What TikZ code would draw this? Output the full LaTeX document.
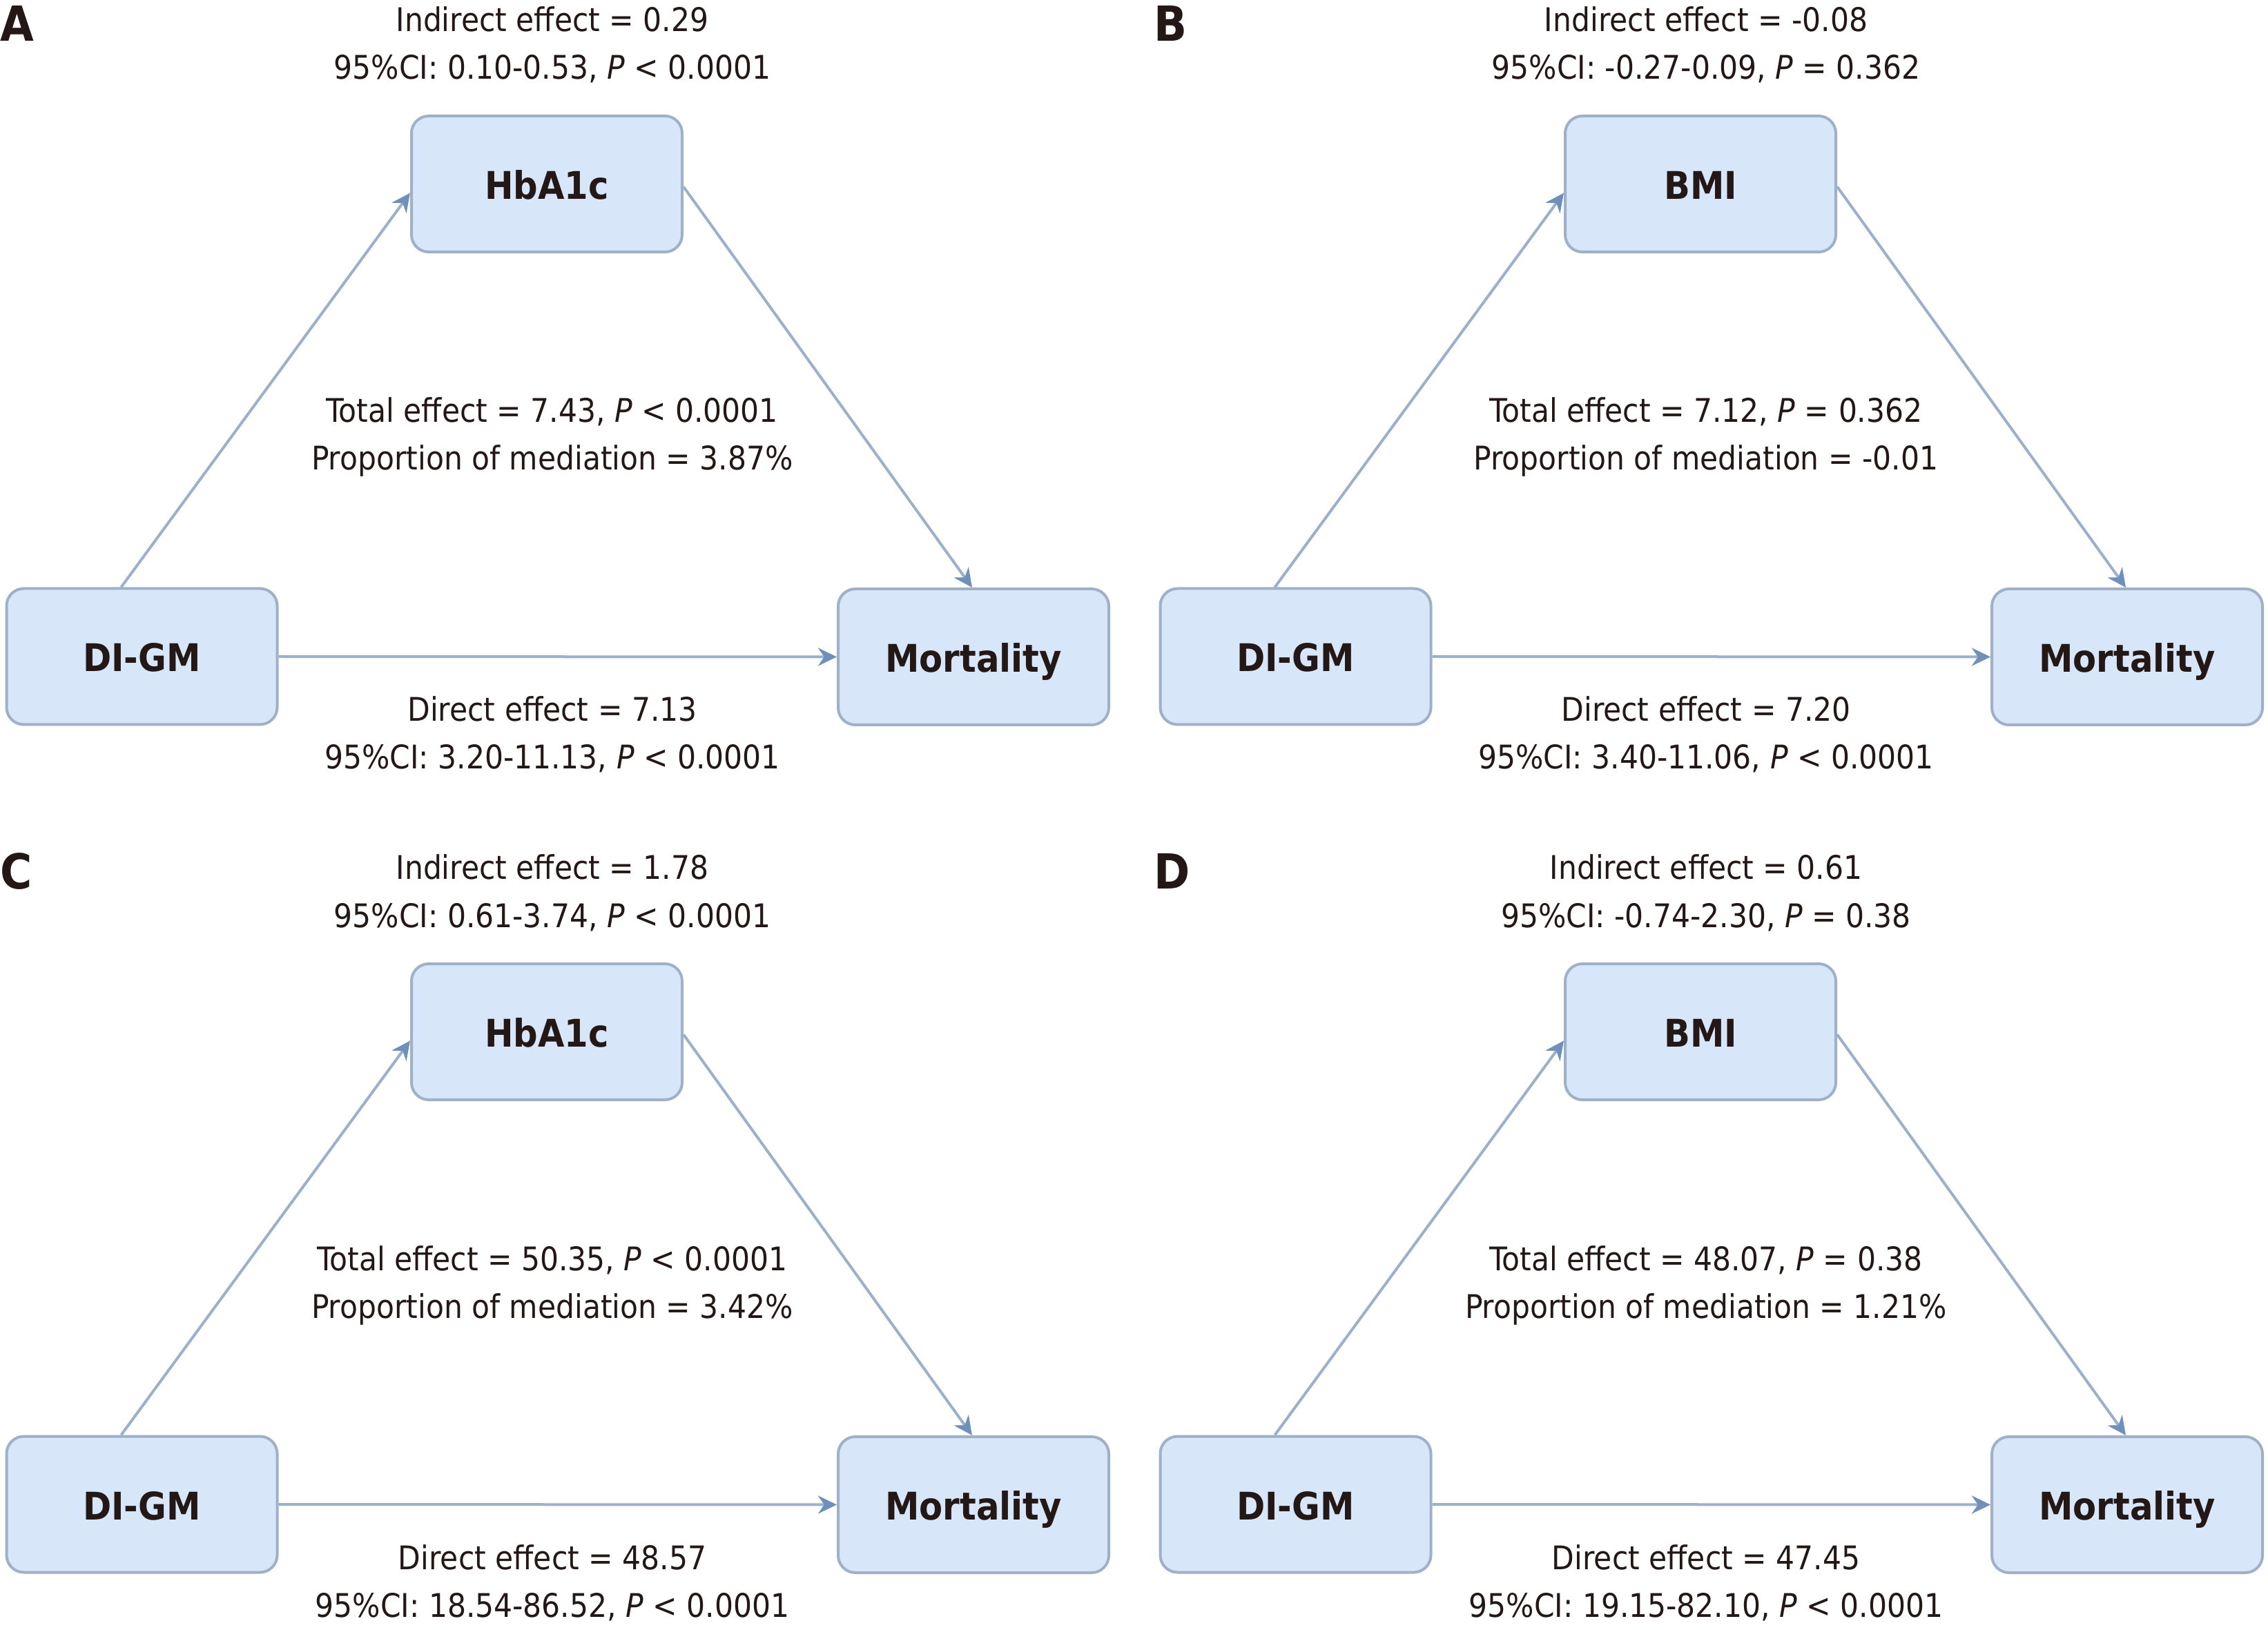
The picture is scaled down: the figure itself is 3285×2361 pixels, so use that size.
\documentclass[tikz,border=0pt]{standalone}
\usepackage{fontspec}
\setmainfont{DejaVu Sans Condensed}
\usetikzlibrary{arrows.meta}
\definecolor{boxfill}{HTML}{D7E6F9}
\definecolor{boxline}{HTML}{9FB1C9}
\definecolor{arrline}{HTML}{9CB0CA}
\definecolor{arrhead}{HTML}{7090BC}
\definecolor{ink}{HTML}{231815}
\tikzset{
  box/.style={draw=boxline, fill=boxfill, line width=1pt, rounded corners=6.25pt,
    minimum width=98pt, minimum height=49.25pt, inner sep=0pt,
    font=\fontsize{13.8}{16}\selectfont\bfseries, text=ink, text height=11pt, text depth=0pt},
  lbl/.style={anchor=base, inner sep=0pt, font=\fontsize{11.8}{14}\selectfont, text=ink},
  plabel/.style={anchor=base west, inner sep=0pt, font=\fontsize{17.5}{20}\selectfont\bfseries, text=ink},
  conn/.style={draw=arrline, line width=1pt,
    -{Stealth[length=6.75pt, width=6.5pt, inset=2.2pt, color=arrhead]}},
}
\newcommand\panelfig[9]{%
  \node[plabel] (#1lab) at (0,60) {#2};
  \node[box] (#1md) at (792,266.5) {#3};
  \node[box] (#1dg) at (205.5,951) {DI-GM};
  \node[box] (#1mo) at (1410,951.5) {Mortality};
  \node[lbl] (#1ia) at (800,46) {#4};
  \node[lbl] (#1ib) at (800,115) {#5};
  \node[lbl] (#1ta) at (800,612) {#6};
  \node[lbl] (#1tb) at (800,681) {#7};
  \node[lbl] (#1da) at (800,1045) {#8};
  \node[lbl] (#1db) at (800,1114) {#9};
  \draw[conn] ([xshift=-7.5pt]#1dg.north) -- ([yshift=-3.25pt]#1md.west);
  \draw[conn] ([yshift=-1pt]#1md.east) -- ([xshift=-0.5pt]#1mo.north);
  \draw[conn] (#1dg.east) -- (#1mo.west);
}
\newcommand\Pv{\textit{P}}
\begin{document}
\begin{tikzpicture}[x=0.25pt,y=-0.25pt]
\useasboundingbox (0,0) rectangle (3285,2361);
\begin{scope}
\panelfig{a}{A}{HbA1c}{Indirect effect = 0.29}{95\%CI: 0.10-0.53, \Pv{} < 0.0001}{Total effect = 7.43, \Pv{} < 0.0001}{Proportion of mediation = 3.87\%}{Direct effect = 7.13}{95\%CI: 3.20-11.13, \Pv{} < 0.0001}
\end{scope}
\begin{scope}[shift={(1671,0)}]
\panelfig{b}{B}{BMI}{Indirect effect = -0.08}{95\%CI: -0.27-0.09, \Pv{} = 0.362}{Total effect = 7.12, \Pv{} = 0.362}{Proportion of mediation = -0.01}{Direct effect = 7.20}{95\%CI: 3.40-11.06, \Pv{} < 0.0001}
\end{scope}
\begin{scope}[shift={(0,1228)}]
\panelfig{c}{C}{HbA1c}{Indirect effect = 1.78}{95\%CI: 0.61-3.74, \Pv{} < 0.0001}{Total effect = 50.35, \Pv{} < 0.0001}{Proportion of mediation = 3.42\%}{Direct effect = 48.57}{95\%CI: 18.54-86.52, \Pv{} < 0.0001}
\end{scope}
\begin{scope}[shift={(1671,1228)}]
\panelfig{d}{D}{BMI}{Indirect effect = 0.61}{95\%CI: -0.74-2.30, \Pv{} = 0.38}{Total effect = 48.07, \Pv{} = 0.38}{Proportion of mediation = 1.21\%}{Direct effect = 47.45}{95\%CI: 19.15-82.10, \Pv{} < 0.0001}
\end{scope}
\end{tikzpicture}
\end{document}
